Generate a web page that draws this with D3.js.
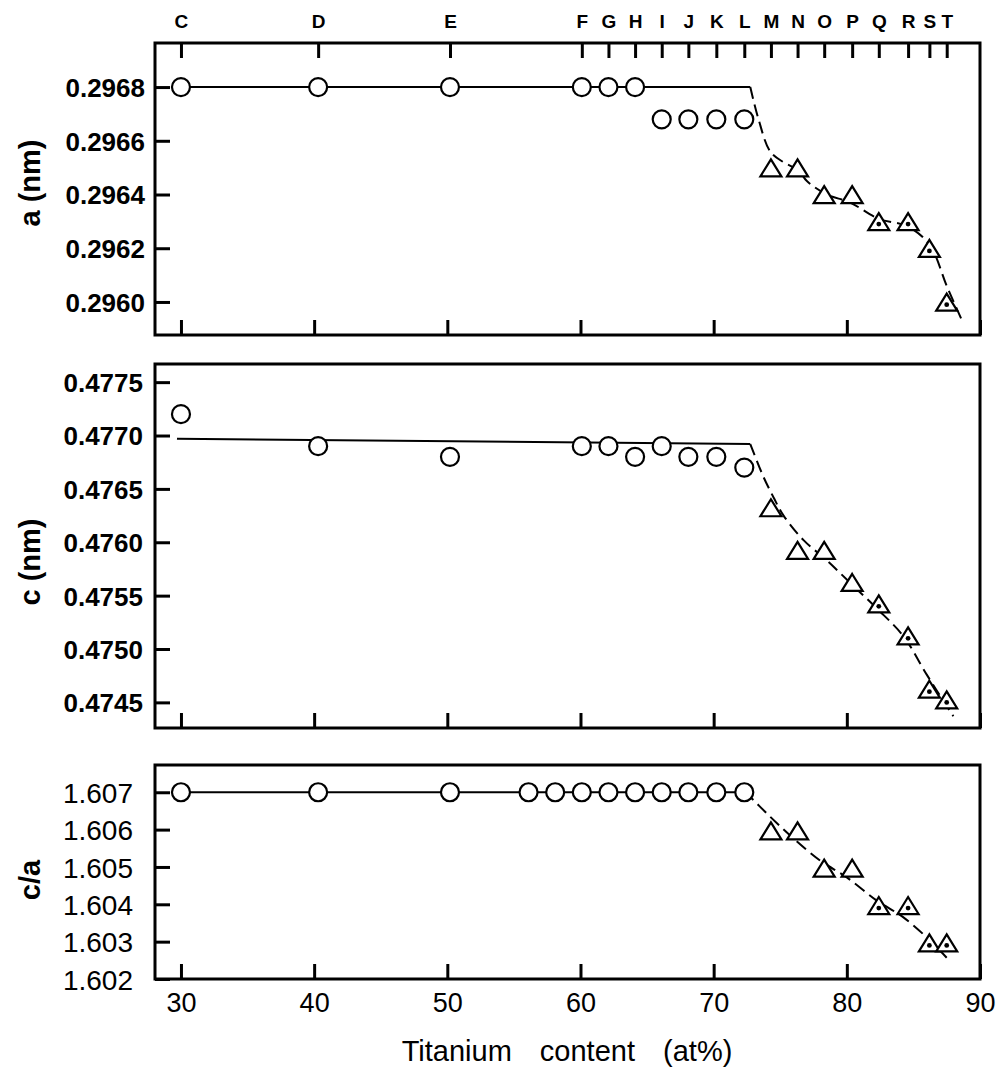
<!DOCTYPE html>
<html>
<head>
<meta charset="utf-8">
<script src="https://cdn.jsdelivr.net/npm/d3@7"></script>
<style>
  html, body { margin: 0; padding: 0; background: #fff; }
  svg { display: block; }
</style>
</head>
<body>
<script>
// Specimens C–T and their titanium content (at%)
const specimens = ["C","D","E","F","G","H","I","J","K","L","M","N","O","P","Q","R","S","T"];
const titanium = [30, 40.3, 50.2, 60.1, 62.1, 64.1, 66.1, 68.1, 70.2, 72.3, 74.3, 76.3, 78.3, 80.4, 82.4, 84.6, 86.2, 87.5];
// o = circle, t = open triangle, td = triangle with centre dot
const markers = ["o","o","o","o","o","o","o","o","o","o","t","t","t","t","td","td","td","td"];

// Lattice parameter a (nm)
const latticeA = [0.2968, 0.2968, 0.2968, 0.2968, 0.2968, 0.2968, 0.29668, 0.29668, 0.29668, 0.29668,
                  0.29649, 0.29649, 0.29639, 0.29639, 0.29629, 0.29629, 0.29619, 0.29599];
// Lattice parameter c (nm)
const latticeC = [0.4772, 0.4769, 0.4768, 0.4769, 0.4769, 0.4768, 0.4769, 0.4768, 0.4768, 0.4767,
                  0.4763, 0.4759, 0.4759, 0.4756, 0.4754, 0.4751, 0.4746, 0.4745];
// Axial ratio c/a (two extra alloys at 56 and 58 at%)
const ratioTitanium = [30, 40.3, 50.2, 56.1, 58.1, 60.1, 62.1, 64.1, 66.1, 68.1, 70.2, 72.3,
                       74.3, 76.3, 78.3, 80.4, 82.4, 84.6, 86.2, 87.5];
const ratioMarkers = ["o","o","o","o","o","o","o","o","o","o","o","o","t","t","t","t","td","td","td","td"];
const ratioCA = [1.607, 1.607, 1.607, 1.607, 1.607, 1.607, 1.607, 1.607, 1.607, 1.607, 1.607, 1.607,
                 1.6059, 1.6059, 1.6049, 1.6049, 1.6039, 1.6039, 1.6029, 1.6029];

// Trend lines: solid plateau, dashed decline
const aSolidX = [30, 72.75];
const aSolid = [0.2968, 0.2968];
const aDashX = [72.75, 73.37, 74.25, 75.25, 76.37, 77.0, 78.5, 80.25, 82.37, 84.62, 86.25, 87.5, 88.75];
const aDash = [0.2968, 0.29668, 0.29656, 0.29652, 0.29649, 0.29645, 0.2964, 0.29637, 0.29631, 0.29628, 0.29621, 0.29606, 0.29592];

const cSolidX = [29.7, 72.75];
const cSolid = [0.47697, 0.47692];
const cDashX = [72.75, 73.75, 74.5, 75.25, 76.75, 78.5, 80.25, 82.25, 84.25, 86.0, 88.0];
const cDash = [0.47692, 0.47661, 0.47642, 0.47625, 0.47602, 0.47583, 0.47562, 0.47538, 0.47512, 0.47476, 0.47437];

const rSolidX = [30, 72.3];
const rSolid = [1.607, 1.607];
const rDashX = [72.3, 72.75, 74.0, 75.75, 78.0, 80.0, 82.25, 84.25, 86.25, 87.5];
const rDash = [1.607, 1.60687, 1.60643, 1.60584, 1.60517, 1.60472, 1.6041, 1.60365, 1.60303, 1.60257];

// Tick values
const aTicks = [0.2960, 0.2962, 0.2964, 0.2966, 0.2968];
const cTicks = [0.4745, 0.4750, 0.4755, 0.4760, 0.4765, 0.4770, 0.4775];
const ratioTicks = [1.602, 1.603, 1.604, 1.605, 1.606, 1.607];
const xTicks = [30, 40, 50, 60, 70, 80, 90];

const W = 1003, H = 1070;
const FONT = "'Liberation Sans', Arial, sans-serif";

const svg = d3.select("body").append("svg")
  .attr("width", W).attr("height", H)
  .style("background", "#fff");

const left = 155, right = 980;
const x = d3.scaleLinear().domain([28.05, 90]).range([left, right]);

const panels = [
  { title: "a (nm)", top: 43, bottom: 335, domain: [0.295877, 0.296964], ticks: aTicks,
    fmt: d3.format(".4f"), pad: 10, fontSize: 26, weight: "bold", titleY: 183,
    px: titanium, py: latticeA, pm: markers,
    solid: [aSolidX, aSolid], dash: [aDashX, aDash] },
  { title: "c (nm)", top: 364, bottom: 728, domain: [0.47426, 0.47767], ticks: cTicks,
    fmt: d3.format(".4f"), pad: 12, fontSize: 26, weight: "bold", titleY: 562,
    px: titanium, py: latticeC, pm: markers,
    solid: [cSolidX, cSolid], dash: [cDashX, cDash] },
  { title: "c/a", top: 765, bottom: 979, domain: [1.602, 1.60773], ticks: ratioTicks,
    fmt: d3.format(".3f"), pad: 22, fontSize: 28, weight: "normal", titleY: 880,
    px: ratioTitanium, py: ratioCA, pm: ratioMarkers,
    solid: [rSolidX, rSolid], dash: [rDashX, rDash] }
];

const triPath = "M0,-11L10.5,6L-10.5,6Z";

panels.forEach((p, pi) => {
  const y = d3.scaleLinear().domain(p.domain).range([p.bottom, p.top]);
  const g = svg.append("g");

  // left axis: inward ticks
  const ya = g.append("g").attr("transform", `translate(${left},0)`)
    .call(d3.axisLeft(y).tickValues(p.ticks).tickFormat(p.fmt).tickSize(-15).tickPadding(p.pad));
  ya.select(".domain").remove();
  ya.selectAll(".tick line").attr("stroke", "#000").attr("stroke-width", 3);
  ya.selectAll(".tick text")
    .attr("font-family", FONT).attr("font-size", p.fontSize).attr("font-weight", p.weight)
    .attr("fill", "#000").attr("dy", "0.36em");

  // bottom axis: inward ticks, labels only on the lowest panel
  const xa = g.append("g").attr("transform", `translate(0,${p.bottom})`)
    .call(d3.axisBottom(x).tickValues(xTicks).tickSize(-15).tickPadding(14)
      .tickFormat(pi === 2 ? d3.format("d") : () => ""));
  xa.select(".domain").remove();
  xa.selectAll(".tick line").attr("stroke", "#000").attr("stroke-width", 3);
  xa.selectAll(".tick text")
    .attr("font-family", FONT).attr("font-size", 27).attr("fill", "#000");

  // specimen letters along the top of the first panel
  if (pi === 0) {
    const ta = g.append("g").attr("transform", `translate(0,${p.top})`)
      .call(d3.axisTop(x).tickValues(titanium).tickSize(-15).tickPadding(15)
        .tickFormat((d, i) => specimens[i]));
    ta.select(".domain").remove();
    ta.selectAll(".tick line").attr("stroke", "#000").attr("stroke-width", 3);
    ta.selectAll(".tick text")
      .attr("font-family", FONT).attr("font-size", 19).attr("font-weight", "bold").attr("fill", "#000");
  }

  // frame
  g.append("rect")
    .attr("x", left).attr("y", p.top)
    .attr("width", right - left).attr("height", p.bottom - p.top)
    .attr("fill", "none").attr("stroke", "#000").attr("stroke-width", 3);

  // axis title
  g.append("text")
    .attr("transform", `translate(30,${p.titleY}) rotate(-90)`)
    .attr("text-anchor", "middle").attr("dominant-baseline", "central")
    .attr("font-family", FONT).attr("font-size", 29).attr("font-weight", "bold")
    .text(p.title);

  // trend lines
  const line = d3.line().x(d => x(d[0])).y(d => y(d[1])).curve(d3.curveCatmullRom);
  g.append("path")
    .attr("d", d3.line().x(d => x(d[0])).y(d => y(d[1]))(d3.zip(p.solid[0], p.solid[1])))
    .attr("fill", "none").attr("stroke", "#000").attr("stroke-width", 2);
  g.append("path")
    .attr("d", line(d3.zip(p.dash[0], p.dash[1])))
    .attr("fill", "none").attr("stroke", "#000").attr("stroke-width", 2)
    .attr("stroke-dasharray", "12,6");

  // data markers
  const pts = p.px.map((v, i) => ({ x: v, y: p.py[i], k: p.pm[i] }));
  const m = g.append("g").selectAll("g").data(pts).join("g")
    .attr("transform", d => `translate(${x(d.x)},${y(d.y)})`);
  m.filter(d => d.k === "o").append("circle")
    .attr("r", 9).attr("fill", "#fff").attr("stroke", "#000").attr("stroke-width", 2.2);
  m.filter(d => d.k !== "o").append("path")
    .attr("d", triPath).attr("fill", "#fff").attr("stroke", "#000").attr("stroke-width", 2.2)
    .attr("stroke-linejoin", "miter");
  m.filter(d => d.k === "td").append("circle")
    .attr("r", 2.4).attr("fill", "#000");
});

// x-axis title
svg.append("text")
  .attr("x", 567).attr("y", 1061)
  .attr("text-anchor", "middle")
  .attr("font-family", FONT).attr("font-size", 29)
  .style("word-spacing", "20px")
  .text("Titanium content (at%)");
</script>
</body>
</html>
